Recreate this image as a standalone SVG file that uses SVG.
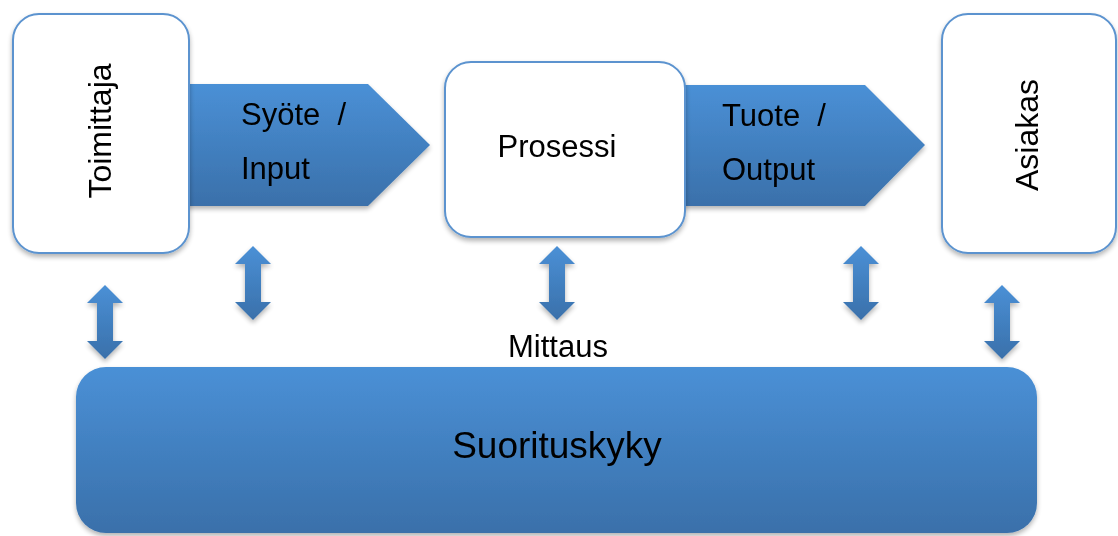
<svg xmlns="http://www.w3.org/2000/svg" width="1118" height="536" viewBox="0 0 1118 536">
  <defs>
    <linearGradient id="blueFill" x1="0" y1="0" x2="0" y2="1">
      <stop offset="0" stop-color="#4a90d6"/>
      <stop offset="1" stop-color="#3a70aa"/>
    </linearGradient>
    <filter id="shadow" x="-10%" y="-10%" width="120%" height="130%">
      <feGaussianBlur in="SourceAlpha" stdDeviation="2.5"/>
      <feOffset dx="0" dy="3" result="b"/>
      <feComponentTransfer><feFuncA type="linear" slope="0.3"/></feComponentTransfer>
      <feMerge><feMergeNode/><feMergeNode in="SourceGraphic"/></feMerge>
    </filter>
    <path id="dbl" d="M0,-37 L18,-19 L8,-19 L8,19 L18,19 L0,37 L-18,19 L-8,19 L-8,-19 L-18,-19 Z"/>
  </defs>
  <style>
    .box { fill: #ffffff; stroke: #5b93cf; stroke-width: 2; }
    .blue { fill: url(#blueFill); }
    .lbl { font-family: "Liberation Sans", Arial, sans-serif; font-size: 31px; fill: #000000; white-space: pre; }
    .rot { font-size: 32px; }
    .big { font-size: 37px; }
  </style>

  <rect width="1118" height="536" fill="#ffffff"/>

  <!-- flow arrows between the stages -->
  <g id="input" filter="url(#shadow)">
    <path class="blue" d="M185,84 L368,84 L430,145 L368,206 L185,206 Z"/>
    <text class="lbl" x="241" y="125">Syöte  /</text>
    <text class="lbl" x="241" y="179">Input</text>
  </g>
  <g id="output" filter="url(#shadow)">
    <path class="blue" d="M680,85 L865,85 L925,145 L865,206 L680,206 Z"/>
    <text class="lbl" x="722" y="126">Tuote  /</text>
    <text class="lbl" x="722" y="180">Output</text>
  </g>

  <g id="toimittaja" filter="url(#shadow)">
    <rect class="box" x="13" y="14" width="176" height="239" rx="26"/>
    <text class="lbl rot" transform="translate(111,131) rotate(-90)" text-anchor="middle">Toimittaja</text>
  </g>

  <g id="prosessi" filter="url(#shadow)">
    <rect class="box" x="445" y="62" width="240" height="175" rx="26"/>
    <text class="lbl" x="557" y="157" text-anchor="middle">Prosessi</text>
  </g>

  <g id="asiakas" filter="url(#shadow)">
    <rect class="box" x="942" y="14" width="174" height="239" rx="26"/>
    <text class="lbl rot" transform="translate(1038,135) rotate(-90)" text-anchor="middle">Asiakas</text>
  </g>

  <!-- measurement links to performance -->
  <g id="connectors" filter="url(#shadow)">
    <use href="#dbl" class="blue" transform="translate(105,322)"/>
    <use href="#dbl" class="blue" transform="translate(253,283)"/>
    <use href="#dbl" class="blue" transform="translate(557,283)"/>
    <use href="#dbl" class="blue" transform="translate(861,283)"/>
    <use href="#dbl" class="blue" transform="translate(1002,322)"/>
  </g>

  <g id="mittaus">
    <text class="lbl" x="558" y="357" text-anchor="middle">Mittaus</text>
  </g>

  <g id="suorituskyky" filter="url(#shadow)">
    <rect class="blue" x="76" y="367" width="961" height="166" rx="30"/>
    <text class="lbl big" x="557" y="458" text-anchor="middle">Suorituskyky</text>
  </g>
</svg>
